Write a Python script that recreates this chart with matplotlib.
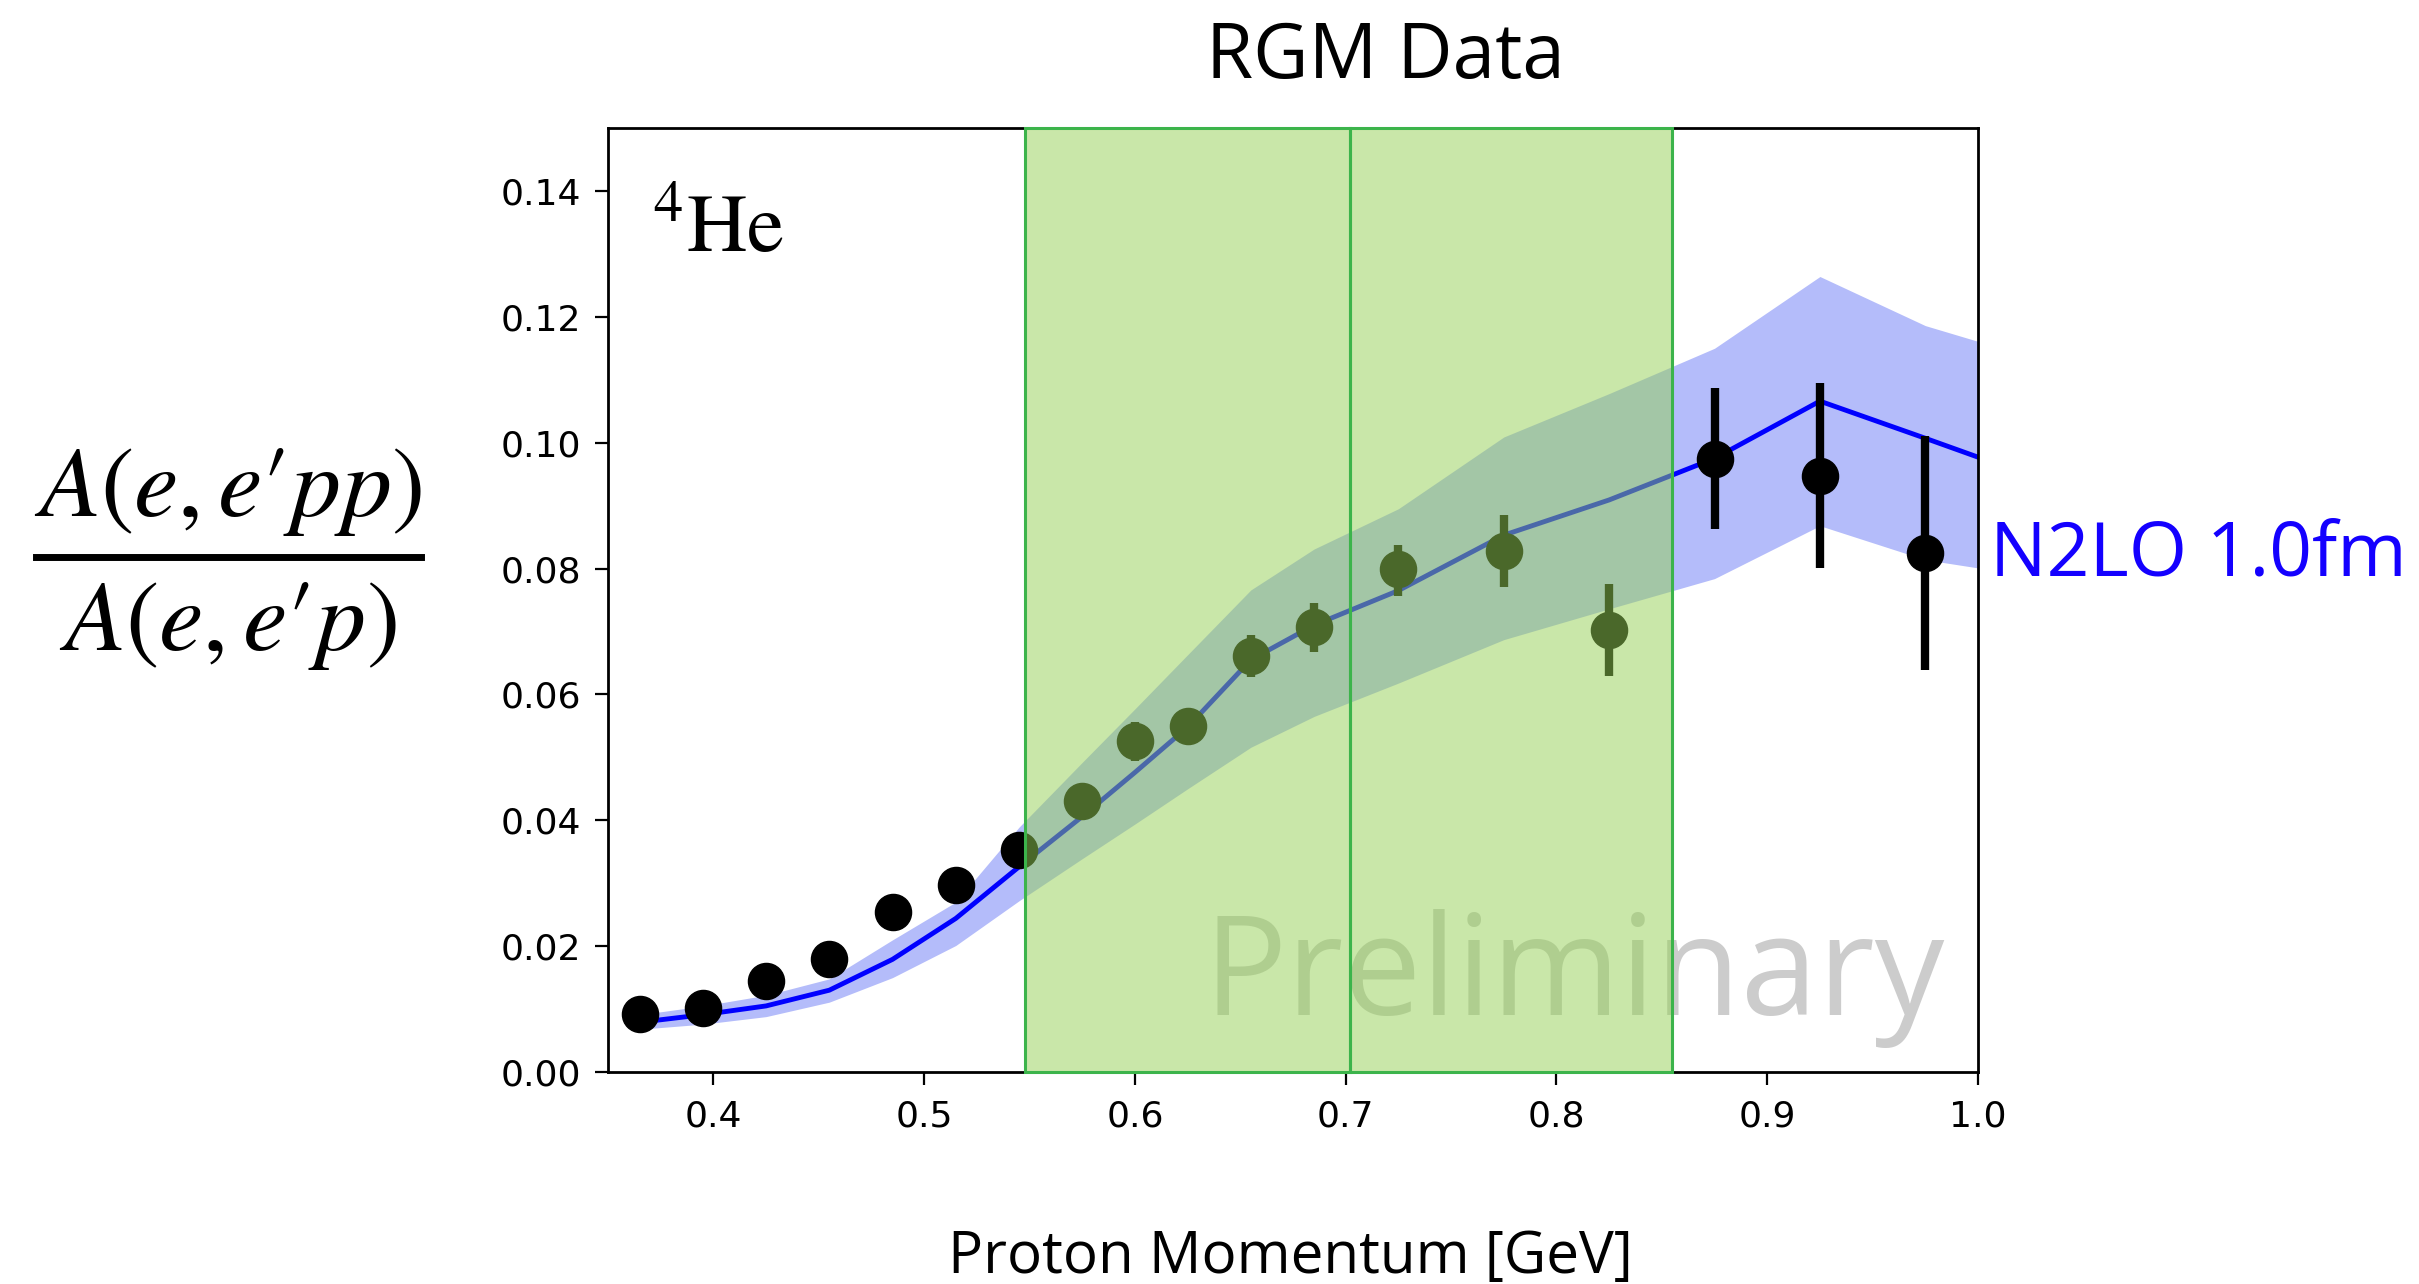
import numpy as np
import matplotlib
matplotlib.use("Agg")
import matplotlib.pyplot as plt
from matplotlib.lines import Line2D

plt.rcParams['mathtext.fontset'] = 'stix'

# measured ratio A(e,e'pp)/A(e,e'p) vs proton momentum
x_data = [0.365, 0.395, 0.425, 0.455, 0.485, 0.515, 0.545, 0.575, 0.600,
          0.625, 0.655, 0.685, 0.725, 0.775, 0.825, 0.875, 0.925, 0.975]
y_data = [0.0092, 0.0102, 0.0145, 0.0179, 0.0255, 0.0297, 0.0353, 0.0430, 0.0526,
          0.0549, 0.0661, 0.0707, 0.0799, 0.0828, 0.0702, 0.0974, 0.0947, 0.0825]
y_low = [0.0088, 0.0098, 0.0141, 0.0175, 0.0251, 0.0292, 0.0348, 0.0420, 0.0494,
         0.0538, 0.0627, 0.0667, 0.0757, 0.0771, 0.0630, 0.0863, 0.0801, 0.0638]
y_high = [0.0096, 0.0106, 0.0149, 0.0183, 0.0259, 0.0302, 0.0358, 0.0440, 0.0556,
          0.0560, 0.0695, 0.0746, 0.0837, 0.0885, 0.0775, 0.1087, 0.1095, 0.1010]

# N2LO 1.0 fm calculation and its band
x_th = [0.365, 0.395, 0.425, 0.455, 0.485, 0.515, 0.545, 0.575, 0.600, 0.625,
        0.655, 0.685, 0.725, 0.775, 0.825, 0.875, 0.925, 0.975, 1.000]
y_th = [0.0079, 0.0091, 0.0105, 0.0130, 0.0179, 0.0244, 0.0326, 0.0406, 0.0476, 0.0548,
        0.0655, 0.0710, 0.0765, 0.0853, 0.0909, 0.0975, 0.1066, 0.1007, 0.0977]
th_upper = [0.0091, 0.0105, 0.0122, 0.0148, 0.0210, 0.0270, 0.0389, 0.0492, 0.0577, 0.0663,
            0.0766, 0.0831, 0.0895, 0.1009, 0.1078, 0.1150, 0.1264, 0.1186, 0.1161]
th_lower = [0.0068, 0.0076, 0.0088, 0.0111, 0.0150, 0.0201, 0.0272, 0.0339, 0.0394, 0.0450,
            0.0516, 0.0565, 0.0618, 0.0687, 0.0736, 0.0784, 0.0868, 0.0814, 0.0801]

# RGM kinematic coverage boxes
rgm_edges = [0.548, 0.702, 0.855]

x_ticks = [0.4, 0.5, 0.6, 0.7, 0.8, 0.9, 1.0]
y_ticks = [0.00, 0.02, 0.04, 0.06, 0.08, 0.10, 0.12, 0.14]

W, H = 2419, 1284
fig = plt.figure(figsize=(W / 100, H / 100), dpi=100)
ax = fig.add_axes([608 / W, 1 - 1072 / H, (1978 - 608) / W, (1072 - 128) / H])

ax.fill_between(x_th, th_lower, th_upper, color='#b4bcfa', lw=0, zorder=1)
ax.plot(x_th, y_th, color='#0000ff', lw=3.5, zorder=2)

y_data = np.array(y_data)
yerr = [y_data - np.array(y_low), np.array(y_high) - y_data]
ax.errorbar(x_data, y_data, yerr=yerr, fmt='o', color='black', ms=26,
            elinewidth=6, capsize=0, zorder=3)

ax.text(0.6327, 0.0091, 'Preliminary', color='#cccccc', fontsize=100,
        family='Open Sans', ha='left', va='baseline', zorder=3.5)

for i in range(len(rgm_edges) - 1):
    ax.axvspan(rgm_edges[i], rgm_edges[i + 1], facecolor='#94d054', alpha=0.5,
               edgecolor='none', zorder=4)
    ax.axvspan(rgm_edges[i], rgm_edges[i + 1], facecolor='none',
               edgecolor='#3cb44b', lw=2.2, zorder=4.5, clip_on=False)

ax.set_xlim(0.35, 1.0)
ax.set_ylim(0, 0.15)
ax.set_xticks(x_ticks)
ax.set_xticklabels(['%.1f' % t for t in x_ticks])
ax.set_yticks(y_ticks)
ax.set_yticklabels(['%.2f' % t for t in y_ticks])
ax.tick_params(labelsize=26, length=9.5, width=1.6, pad=10)
for s in ax.spines.values():
    s.set_linewidth(2)

ax.text(0.032, 0.8686, r'$^{4}\mathrm{He}$', transform=ax.transAxes,
        fontsize=60, ha='left', va='baseline')

fig.text(1385 / W, 1 - 78 / H, 'RGM Data', fontsize=55, family='Open Sans',
         ha='center', va='baseline')
fig.text(1290 / W, 1 - 1273 / H, 'Proton Momentum [GeV]', fontsize=42,
         family='Open Sans', ha='center', va='baseline')
fig.text(1990 / W, 1 - 575 / H, 'N2LO 1.0fm', fontsize=54, family='Open Sans',
         color='#1400ff', ha='left', va='baseline')

# y label written as a fraction
fig.text(228 / W, 1 - 516 / H, "$A(e,e\u2032pp)$", fontsize=72, ha='center', va='baseline')
fig.text(228 / W, 1 - 650 / H, "$A(e,e\u2032p)$", fontsize=72, ha='center', va='baseline')
fig.add_artist(Line2D([36 / W, 421 / W], [1 - 557 / H, 1 - 557 / H], color='black',
                      lw=5, transform=fig.transFigure))

fig.savefig('out.png', dpi=100)
